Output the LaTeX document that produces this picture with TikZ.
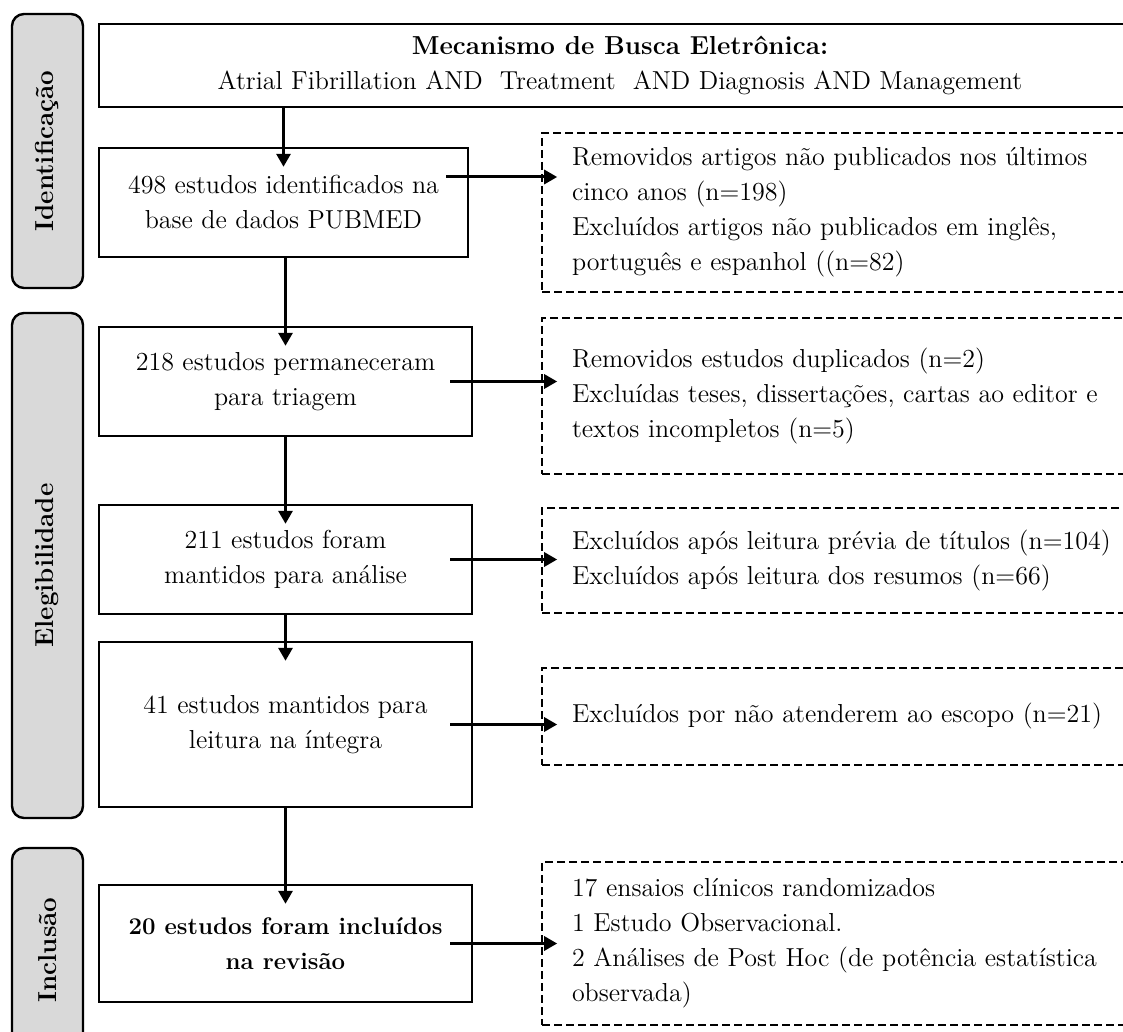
\documentclass[tikz,border=0pt]{standalone}
\usepackage{fontspec}
\usetikzlibrary{arrows.meta}

\begin{document}
\begin{tikzpicture}[x=0.5pt,y=-0.5pt,
    every node/.style={font=\fontsize{13}{17.5}\selectfont,inner sep=0pt},
    fase/.style={draw,line width=1.2pt,fill=black!15,rounded corners=6pt,
      rotate=90,font=\fontsize{13}{17.5}\selectfont\bfseries,minimum height=35.5pt},
    caixa/.style={draw,line width=1.2pt,align=center},
    exclui/.style={draw,line width=0.8pt,dash pattern=on 4pt off 2pt,
      align=left,text width=274pt,minimum width=304pt},
    seta/.style={line width=1.5pt,-{Triangle[length=6.5pt,width=7pt]}}]
    \useasboundingbox (0,0) rectangle (1123,1032);

    % fases
    \node[fase,minimum width=137pt]   (ident) at (47.5,151)   {Identificação};
    \node[fase,minimum width=252.5pt] (eleg)  at (47.5,565.5) {Elegibilidade};
    \node[fase,minimum width=102pt]   (incl)  at (47.5,950)   {Inclusão};

    % fluxo principal
    \node[caixa,minimum width=521pt,minimum height=41.5pt] (busca) at (620,65.5)
      {\textbf{Mecanismo de Busca Eletrônica:}\\Atrial Fibrillation AND\ \ Treatment\ \ AND Diagnosis AND Management};
    \node[caixa,minimum width=184.5pt,minimum height=54.5pt] (n498) at (283.5,202.5)
      {498 estudos identificados na\\base de dados PUBMED};
    \node[caixa,minimum width=186.5pt,minimum height=54.5pt] (n218) at (285.5,381.5)
      {218 estudos permaneceram\\para triagem};
    \node[caixa,minimum width=186.5pt,minimum height=54.5pt] (n211) at (285.5,559.5)
      {211 estudos foram\\mantidos para análise};
    \node[caixa,minimum width=186.5pt,minimum height=82.5pt] (n41)  at (285.5,724.5)
      {41 estudos mantidos para\\leitura na íntegra};
    \node[caixa,minimum width=186.5pt,minimum height=58.5pt,font=\fontsize{12}{17.5}\selectfont\bfseries] (n20) at (285.5,943.5)
      {20 estudos foram incluídos\\na revisão};

    % excluidos
    \node[exclui,minimum height=79.5pt] (x1) at (846,212.5)
      {Removidos artigos não publicados nos últimos\\cinco anos (n=198)\\Excluídos artigos não publicados em inglês,\\português e espanhol ((n=82)};
    \node[exclui,minimum height=78pt] (x2) at (846,396)
      {Removidos estudos duplicados (n=2)\\Excluídas teses, dissertações, cartas ao editor e\\textos incompletos (n=5)};
    \node[exclui,minimum height=52.5pt] (x3) at (846,560.5)
      {Excluídos após leitura prévia de títulos (n=104)\\Excluídos após leitura dos resumos (n=66)};
    \node[exclui,minimum height=48.5pt] (x4) at (846,716.5)
      {Excluídos por não atenderem ao escopo (n=21)};
    \node[exclui,minimum height=81.5pt] (x5) at (846,943.5)
      {17 ensaios clínicos randomizados\\1 Estudo Observacional.\\2 Análises de Post Hoc (de potência estatística\\observada)};

    % setas verticais
    \draw[seta,shorten >=-10pt] (busca.south -| n498) -- (n498.north);
    \draw[seta,shorten >=-10pt] (n498.south -| n218) -- (n218.north);
    \draw[seta,shorten >=-10pt] (n218.south) -- (n211.north);
    \draw[seta,shorten >=-10pt] (n211.south) -- (n41.north);
    \draw[seta,shorten >=-10pt] (n41.south) -- (n20.north);

    % setas laterais
    \draw[seta,shorten <=-11.5pt,shorten >=-8pt] ([yshift=12.75pt]n498.east) -- ([yshift=12.75pt]n498.east -| x1.west);
    \draw[seta,shorten <=-11.5pt,shorten >=-8pt] (n218.east) -- (n218.east -| x2.west);
    \draw[seta,shorten <=-11.5pt,shorten >=-8pt] (n211.east) -- (n211.east -| x3.west);
    \draw[seta,shorten <=-11.5pt,shorten >=-8pt] (n41.east)  -- (n41.east -| x4.west);
    \draw[seta,shorten <=-11.5pt,shorten >=-8pt] (n20.east)  -- (n20.east -| x5.west);
  \end{tikzpicture}
\end{document}
